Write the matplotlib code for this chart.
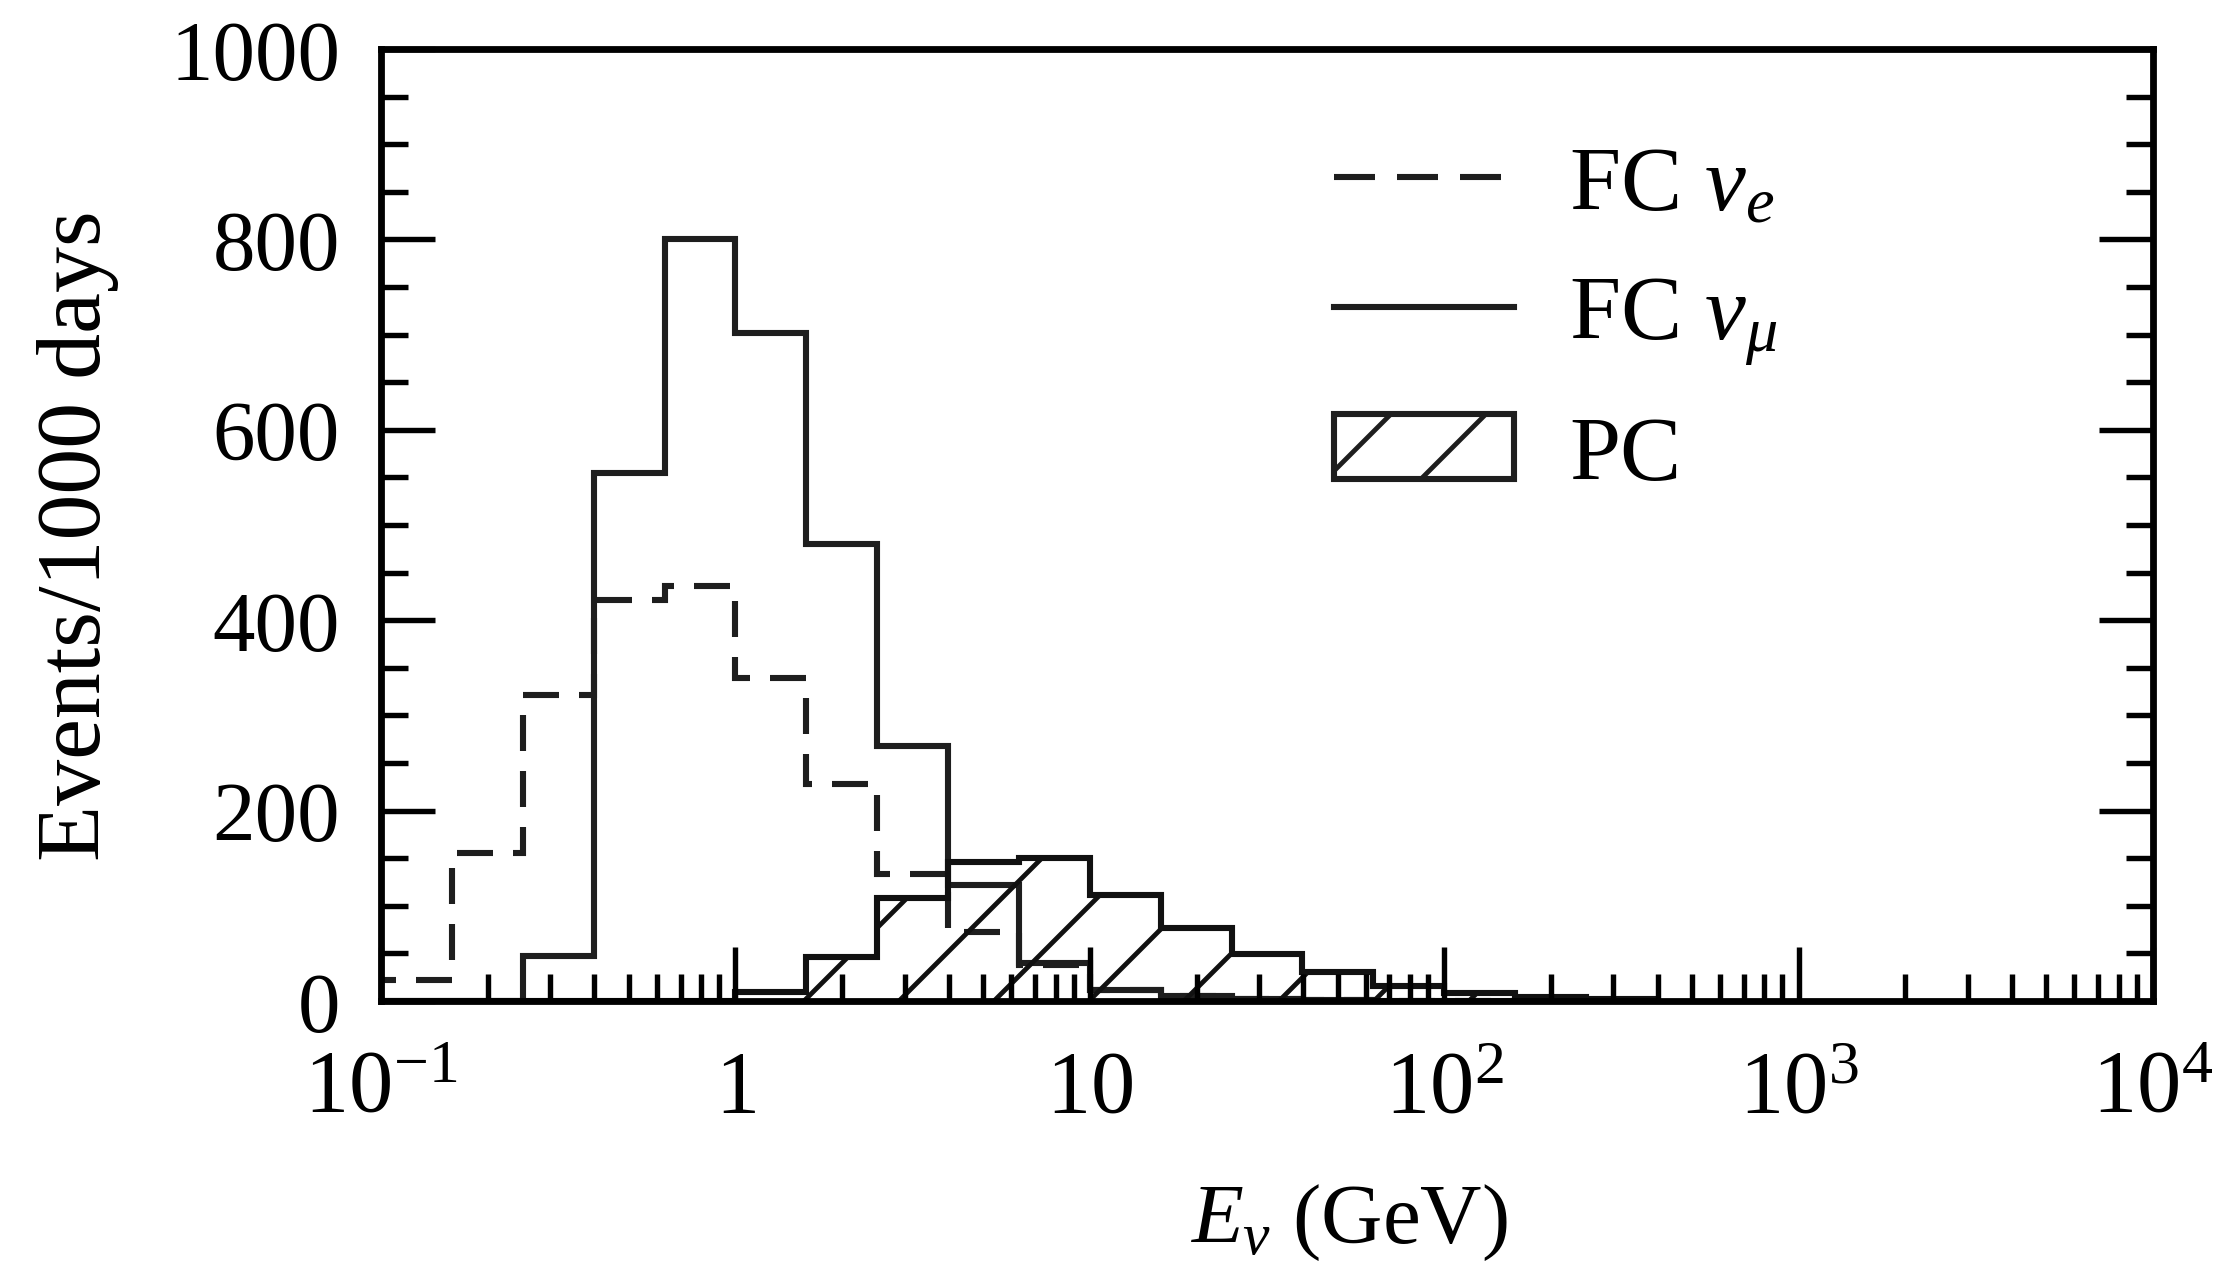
import numpy as np
import matplotlib
matplotlib.use('Agg')
import matplotlib.pyplot as plt
from matplotlib.patches import Rectangle
from matplotlib.ticker import MultipleLocator, LogLocator, NullFormatter

# Bin edges (GeV), 0.2 decade wide
edges = [0.1, 0.1585, 0.2512, 0.3981, 0.631, 1.0, 1.585, 2.512, 3.981, 6.31,
         10.0, 15.85, 25.12, 39.81, 63.1, 100.0, 158.5, 251.2, 398.1]

# Events / 1000 days in each bin
fc_nue = [22, 155, 321, 421, 436, 339, 228, 133, 72, 38, 12, 5, 2, 1, 0, 0, 0, 0]
fc_numu = [0, 0, 47, 555, 800, 702, 480, 268, 122, 40, 12, 5, 2, 1, 0, 0, 0, 0]
pc = [0, 0, 0, 0, 0, 9, 46, 108, 146, 150, 111, 77, 49, 30, 16, 8, 4, 2]

xticks = [0.1, 1, 10, 100, 1000, 10000]
xticklabels = ['$10^{-1}$', '$1$', '$10$', '$10^2$', '$10^3$', '$10^4$']
yticks = [0, 200, 400, 600, 800, 1000]

# high dpi so the hatch comes out as wide as in the original figure
DPI = 570
W, H = 2213, 1266


# sizes below are given in output pixels
def px(v):
    return v * 72.0 / DPI


plt.rcParams['font.family'] = ['Liberation Serif', 'DejaVu Serif']
plt.rcParams['mathtext.fontset'] = 'custom'
plt.rcParams['mathtext.rm'] = 'Liberation Serif'
plt.rcParams['mathtext.it'] = 'Liberation Serif:italic'
plt.rcParams['lines.scale_dashes'] = False
plt.rcParams['hatch.linewidth'] = px(4.8)
plt.rcParams['hatch.color'] = '#111111'

fig = plt.figure(figsize=(W / DPI, H / DPI), dpi=DPI)
ax = fig.add_axes([0.1722, 0.2085, 0.9729 - 0.1722, 0.9605 - 0.2085])

lw = px(6.1)
col = '#1e1e1e'
dash = (0, (px(36), px(20)))
ax.stairs(fc_nue, edges, baseline=0, fill=False, color=col, lw=lw, linestyle=dash)
ax.stairs(fc_numu, edges, baseline=0, fill=False, color=col, lw=lw)
ax.stairs(pc, edges, baseline=0, fill=False, color='#111111', lw=lw, hatch='//')

ax.set_xscale('log')
ax.set_xlim(0.1, 1e4)
ax.set_ylim(0, 1000)

ax.set_xticks(xticks)
ax.set_xticklabels(xticklabels)
ax.xaxis.set_minor_locator(LogLocator(base=10, subs=np.arange(2, 10)))
ax.xaxis.set_minor_formatter(NullFormatter())
ax.set_yticks(yticks)
ax.yaxis.set_minor_locator(MultipleLocator(50))

for s in ax.spines.values():
    s.set_linewidth(px(6.8))
ax.tick_params(axis='both', which='both', direction='in', width=px(5.4), top=False)
ax.tick_params(axis='y', which='both', right=True)
ax.tick_params(axis='both', which='major', length=px(54))
ax.tick_params(axis='both', which='minor', length=px(27))
ax.tick_params(axis='y', which='major', labelsize=px(85), pad=px(41))
ax.tick_params(axis='x', which='major', labelsize=px(88.5), pad=px(47.6))

ax.set_xlabel(r'$E_\nu$ (GeV)', fontsize=px(85))
ax.xaxis.set_label_coords(0.546, -0.19)
ax.set_ylabel('Events/1000 days', fontsize=px(92))
ax.yaxis.set_label_coords(-0.148, 0.49)

# legend
h_nue = plt.Line2D([], [], color=col, lw=lw, linestyle=(0, (px(41), px(22))))
h_numu = plt.Line2D([], [], color=col, lw=lw)
h_pc = Rectangle((0, 0), 1, 1, facecolor='white', edgecolor=col, lw=lw, hatch='//')
ax.legend([h_nue, h_numu, h_pc], [r'FC $\nu_e$', r'FC $\nu_\mu$', 'PC'],
          loc='upper left', bbox_to_anchor=(0.538, 0.9), frameon=False,
          fontsize=px(92), handlelength=1.95, handleheight=0.72, handletextpad=0.6,
          labelspacing=0.5, borderpad=0, borderaxespad=0)

fig.savefig('out.png', dpi=DPI)
